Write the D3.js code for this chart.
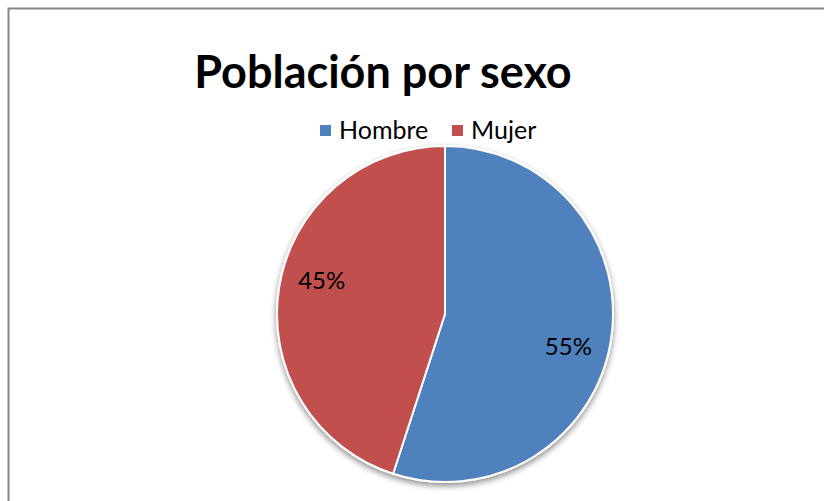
<!DOCTYPE html>
<html>
<head>
<meta charset="utf-8">
<script src="https://cdn.jsdelivr.net/npm/d3@7"></script>
<style>
  html, body { margin: 0; padding: 0; background: #fff; }
  svg { display: block; }
</style>
</head>
<body>
<script>
// chart values
const categories = ['Hombre', 'Mujer'];
const values = [55, 45];
const colors = ['#4F81BD', '#C0504D'];
const title = 'Población por sexo';

const width = 824, height = 501;
const cx = 445, cy = 314, radius = 168;
const font = 'Lato, "Open Sans", sans-serif';

const svg = d3.select('body').append('svg')
    .attr('width', width)
    .attr('height', height);

// outer frame (only top/left visible in the crop)
svg.append('rect')
    .attr('x', 8.5).attr('y', 8.5)
    .attr('width', 840).attr('height', 520)
    .attr('fill', 'none')
    .attr('stroke', '#868686')
    .attr('stroke-width', 2);

const defs = svg.append('defs');
const shadow = defs.append('filter').attr('id', 'shadow')
    .attr('x', '-10%').attr('y', '-10%').attr('width', '120%').attr('height', '125%');
shadow.append('feGaussianBlur').attr('in', 'SourceAlpha').attr('stdDeviation', 3);
shadow.append('feOffset').attr('dx', 0).attr('dy', 3).attr('result', 'blur');
shadow.append('feComponentTransfer').append('feFuncA').attr('type', 'linear').attr('slope', 0.45);
const merge = shadow.append('feMerge');
merge.append('feMergeNode');
merge.append('feMergeNode').attr('in', 'SourceGraphic');

svg.append('text')
    .attr('x', 383).attr('y', 88)
    .attr('text-anchor', 'middle')
    .attr('font-family', font)
    .attr('font-weight', 'bold')
    .attr('font-size', 45)
    .attr('fill', '#000')
    .text(title);

const color = d3.scaleOrdinal().domain(categories).range(colors);

// legend
const legendX = [320, 452];
const legend = svg.append('g');
categories.forEach((c, i) => {
    legend.append('rect')
        .attr('x', legendX[i]).attr('y', 125)
        .attr('width', 11).attr('height', 11)
        .attr('fill', color(c));
    legend.append('text')
        .attr('x', legendX[i] + 19).attr('y', 139)
        .attr('font-family', font)
        .attr('font-size', 25)
        .attr('fill', '#000')
        .text(c);
});

const pie = d3.pie().sort(null).value(d => d.value);
const arcs = pie(categories.map((c, i) => ({ name: c, value: values[i] })));
const arc = d3.arc().innerRadius(0).outerRadius(radius);
const total = d3.sum(values);

const g = svg.append('g').attr('transform', `translate(${cx},${cy})`);

g.append('g').attr('filter', 'url(#shadow)')
    .selectAll('path')
    .data(arcs)
    .join('path')
    .attr('d', arc)
    .attr('fill', d => color(d.data.name))
    .attr('stroke', '#fff')
    .attr('stroke-width', 2)
    .attr('stroke-linejoin', 'round');

// labels sit a little clockwise of the slice middle, like the original
const labelShift = 0.105;
const labelArc = d3.arc().innerRadius(radius * 0.76).outerRadius(radius * 0.76);
g.selectAll('text.lbl')
    .data(arcs)
    .join('text')
    .attr('class', 'lbl')
    .attr('transform', d => `translate(${labelArc.centroid({
        startAngle: d.startAngle + labelShift,
        endAngle: d.endAngle + labelShift
    })})`)
    .attr('text-anchor', 'middle')
    .attr('dy', '0.35em')
    .attr('font-family', font)
    .attr('font-size', 24)
    .attr('fill', '#000')
    .text(d => Math.round(d.data.value / total * 100) + '%');
</script>
</body>
</html>
